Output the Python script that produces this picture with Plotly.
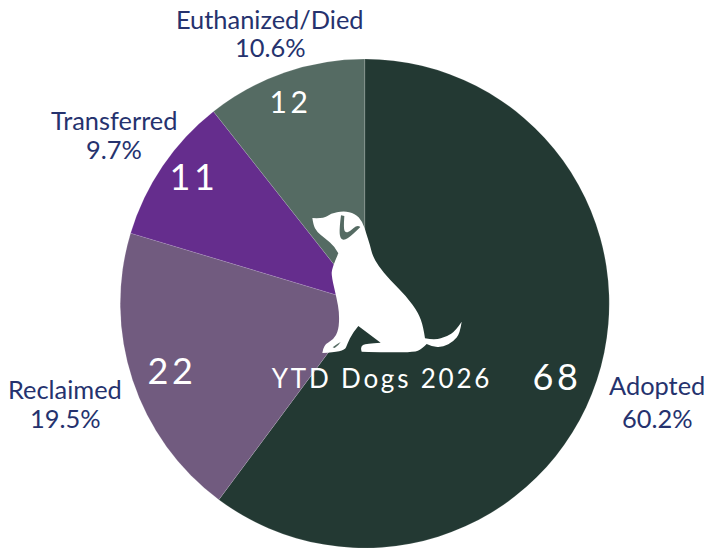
import plotly.graph_objects as go

categories = ["Adopted", "Reclaimed", "Transferred", "Euthanized/Died"]
counts = [68, 22, 11, 12]
percents = ["60.2%", "19.5%", "9.7%", "10.6%"]
center_title = "YTD Dogs 2026"
colors = ["#233933", "#715b7f", "#652d8d", "#556b63"]
NAVY = "#25326e"
W, H = 704, 548

# label anchor pixels: name centre, pct centre, count centre, count font size
name_pos = [(657, 385), (65, 389), (114, 120), (270, 19)]
pct_pos = [(657, 418), (65, 418), (114, 149), (270, 47)]
count_pos = [(557, 376), (172, 370), (194, 176), (290, 101)]
count_size = [36, 36, 36, 30]


def px(x, y):
    return x / W, 1 - y / H


def zoom_to_paper(p):
    return px(290 + p[0] / 3, 190 + p[1] / 3)


def smooth_path(runs):
    """Each run is a list of zoom-crop points, joined with midpoint-smoothed curves."""
    out = []
    first = True
    for run in runs:
        pts = [zoom_to_paper(p) for p in run]
        if first:
            out.append(f"M{pts[0][0]:.5f},{pts[0][1]:.5f}")
            first = False
        else:
            out.append(f"L{pts[0][0]:.5f},{pts[0][1]:.5f}")
        for i in range(1, len(pts) - 1):
            mx = (pts[i][0] + pts[i + 1][0]) / 2
            my = (pts[i][1] + pts[i + 1][1]) / 2
            if i == len(pts) - 2:
                mx, my = pts[i + 1]
            out.append(f"Q{pts[i][0]:.5f},{pts[i][1]:.5f} {mx:.5f},{my:.5f}")
    return " ".join(out) + " Z"


dog = [
    [(67, 84), (100, 86), (122, 71), (160, 63), (195, 70), (218, 95), (230, 135), (240, 165),
     (247, 195), (265, 228), (300, 270), (350, 320), (385, 368), (400, 410), (405, 445)],
    [(405, 445), (435, 450), (470, 440), (497, 422), (515, 395)],
    [(515, 395), (510, 430), (490, 455), (460, 470), (430, 472), (410, 462)],
    [(410, 462), (395, 478), (372, 487), (300, 487), (215, 485)],
    [(215, 485), (210, 470), (228, 460), (272, 458)],
    [(272, 458), (205, 408)],
    [(205, 408), (188, 428), (172, 462), (165, 480), (130, 488), (97, 489)],
    [(97, 489), (100, 465), (130, 450), (146, 420), (148, 370), (140, 325), (125, 262),
     (125, 235), (145, 190)],
    [(145, 190), (135, 170), (105, 145), (80, 125), (70, 105), (67, 84)],
]
ear = [
    [(153, 76), (148, 115), (150, 145), (163, 151), (185, 137), (211, 111)],
    [(211, 111), (202, 104), (180, 124), (168, 128), (160, 118), (163, 78)],
]
paw_slit = [
    [(128, 472), (140, 462), (152, 456)],
    [(152, 456), (146, 466), (134, 474)],
]

fig = go.Figure(go.Pie(
    labels=categories, values=counts, sort=False, direction="clockwise", rotation=0,
    marker=dict(colors=colors, line=dict(color="rgba(255,255,255,0.25)", width=0.5)),
    textinfo="none", hoverinfo="label+value+percent", showlegend=False,
    domain=dict(x=[119.5 / W, 610 / W], y=[0, 1 - 59 / H]),
))

ann = []


def add(pos, text, size, color, weight=400):
    x, y = px(*pos)
    ann.append(dict(x=x, y=y, xref="paper", yref="paper", text=text, showarrow=False,
                    xanchor="center", yanchor="middle",
                    font=dict(family="Lato", size=size, color=color, weight=weight)))


for i in range(len(categories)):
    add(name_pos[i], categories[i], 25.4, NAVY)
    add(pct_pos[i], percents[i], 25.4, NAVY)
    add(count_pos[i], str(counts[i]), count_size[i], "white")
add((382, 378), center_title, 26, "white")

fig.update_layout(
    width=W, height=H, margin=dict(l=0, r=0, t=0, b=0),
    paper_bgcolor="white", annotations=ann,
    shapes=[
        dict(type="path", xref="paper", yref="paper", path=smooth_path(dog),
             fillcolor="white", line=dict(width=0), layer="above"),
        dict(type="path", xref="paper", yref="paper", path=smooth_path(ear),
             fillcolor="#556b63", line=dict(width=0), layer="above"),
        dict(type="path", xref="paper", yref="paper", path=smooth_path(paw_slit),
             fillcolor="#556b63", line=dict(width=0), layer="above"),
    ],
)

spacing_js = """
document.body.style.margin = '0';
document.querySelectorAll('.annotation-text').forEach(function (t) {
  var s = t.textContent;
  if (s === 'YTD Dogs 2026') { t.style.letterSpacing = '2.8px'; }
  else if (/^[0-9]+$/.test(s)) { t.style.letterSpacing = '3.4px'; }
});
"""
fig.write_html("out.html", post_script=spacing_js, config=dict(displayModeBar=False))
